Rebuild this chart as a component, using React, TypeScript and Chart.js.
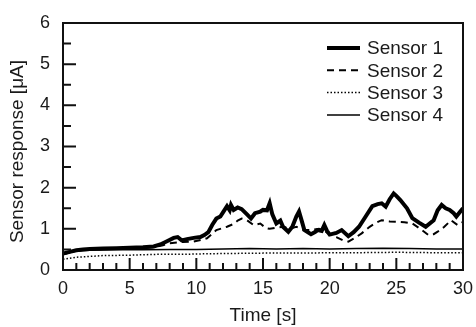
import React, { useEffect, useRef } from "react";
import { Chart, registerables } from "chart.js";

Chart.register(...registerables);

// ---- Data ----
const sensor1Time = [0, 0.5, 1, 1.5, 2, 3, 4, 5, 6, 6.8, 7.3, 7.8, 8.3, 8.6, 8.9, 9.3, 9.8, 10.3, 10.6, 10.9, 11.2, 11.5, 11.8, 12.0, 12.3, 12.5, 12.6, 12.8, 13.1, 13.4, 13.8, 14.1, 14.4, 14.8, 15.0, 15.3, 15.5, 15.7, 16.0, 16.3, 16.5, 16.9, 17.2, 17.5, 17.7, 17.9, 18.1, 18.6, 18.9, 19.1, 19.4, 19.6, 19.8, 20.0, 20.5, 20.9, 21.4, 21.8, 22.2, 22.7, 23.2, 23.6, 23.9, 24.2, 24.5, 24.8, 25.0, 25.3, 25.8, 26.2, 26.7, 27.2, 27.8, 28.1, 28.4, 28.7, 29.0, 29.3, 29.5, 29.8, 30];
const sensor1Values = [0.40, 0.44, 0.48, 0.50, 0.51, 0.52, 0.53, 0.54, 0.55, 0.57, 0.62, 0.70, 0.78, 0.80, 0.72, 0.75, 0.78, 0.80, 0.85, 0.92, 1.10, 1.25, 1.30, 1.40, 1.55, 1.45, 1.58, 1.46, 1.52, 1.48, 1.35, 1.25, 1.38, 1.42, 1.46, 1.45, 1.62, 1.35, 1.13, 1.20, 1.05, 0.93, 1.05, 1.30, 1.42, 1.20, 0.97, 0.87, 0.92, 0.97, 0.95, 1.09, 0.95, 0.86, 0.90, 0.97, 0.82, 0.92, 1.05, 1.30, 1.55, 1.60, 1.62, 1.54, 1.72, 1.86, 1.80, 1.70, 1.50, 1.26, 1.15, 1.05, 1.21, 1.45, 1.58, 1.50, 1.46, 1.38, 1.30, 1.42, 1.50];

const sensor2Time = [0, 1, 2, 3, 5, 6.8, 7.5, 8.0, 9.0, 9.8, 10.5, 10.8, 11.2, 11.5, 12.0, 12.3, 12.8, 13.1, 13.4, 13.8, 14.3, 14.8, 15.2, 15.5, 16.0, 16.5, 17.0, 17.5, 18.0, 18.6, 19.2, 19.6, 20.1, 20.5, 21.0, 21.4, 21.8, 22.4, 23.0, 23.5, 23.9, 24.5, 25.1, 25.6, 26.2, 26.8, 27.4, 27.8, 28.1, 28.6, 29.1, 29.6, 30];
const sensor2Values = [0.38, 0.47, 0.50, 0.51, 0.52, 0.55, 0.60, 0.65, 0.68, 0.69, 0.74, 0.77, 0.88, 0.97, 1.02, 1.05, 1.12, 1.20, 1.25, 1.21, 1.09, 1.13, 1.02, 1.00, 1.03, 1.05, 1.00, 1.05, 0.98, 0.97, 1.00, 0.95, 0.85, 0.80, 0.72, 0.69, 0.76, 0.89, 1.05, 1.15, 1.21, 1.18, 1.17, 1.16, 1.13, 1.00, 0.85, 0.87, 0.93, 1.05, 1.21, 1.09, 1.17];

const sensor3Time = [0, 1, 2, 3, 5, 7, 9, 10, 12, 15, 18, 20, 22, 25, 28, 30];
const sensor3Values = [0.26, 0.31, 0.33, 0.35, 0.36, 0.38, 0.38, 0.39, 0.40, 0.41, 0.41, 0.42, 0.42, 0.43, 0.42, 0.42];

const sensor4Time = [0, 1, 2, 4, 6, 8, 10, 12, 14, 16, 18, 20, 22, 24, 26, 28, 30];
const sensor4Values = [0.38, 0.46, 0.48, 0.49, 0.49, 0.50, 0.50, 0.51, 0.52, 0.51, 0.52, 0.51, 0.52, 0.53, 0.52, 0.51, 0.51];

const seriesNames = ["Sensor 1", "Sensor 2", "Sensor 3", "Sensor 4"];
const xTitle = "Time [s]";
const yTitle = "Sensor response [\u03bcA]";

const FONT = "'Liberation Sans', Arial, sans-serif";
const TEXT = "#1a1a1a";

const styles = [
  { width: 4, dash: [] as number[] },
  { width: 2, dash: [7, 5] },
  { width: 1.5, dash: [1.5, 2] },
  { width: 1.5, dash: [] as number[] },
];

const toPts = (t: number[], v: number[]) => t.map((x, i) => ({ x, y: v[i] }));

const framePlugin = {
  id: "frameAndLegend",
  afterDatasetsDraw(chart: any) {
    const { ctx, chartArea: a, scales } = chart;
    ctx.save();
    ctx.strokeStyle = "#111";
    ctx.lineWidth = 2;
    ctx.setLineDash([]);
    ctx.strokeRect(a.left, a.top, a.right - a.left, a.bottom - a.top);
    ctx.beginPath();
    for (let t = 0; t <= 30; t += 1) {
      const px = scales.x.getPixelForValue(t);
      const len = t % 5 === 0 ? 12 : 7;
      ctx.moveTo(px, a.bottom);
      ctx.lineTo(px, a.bottom - len);
    }
    for (let k = 0; k <= 12; k += 1) {
      const py = scales.y.getPixelForValue(k / 2);
      const len = k % 2 === 0 ? 13 : 8;
      ctx.moveTo(a.left, py);
      ctx.lineTo(a.left + len, py);
    }
    ctx.stroke();

    // y-axis title (slightly below the plot centre, as in the reference)
    ctx.save();
    ctx.translate(18, (a.top + a.bottom) / 2 + 5);
    ctx.rotate(-Math.PI / 2);
    ctx.font = `19px ${FONT}`;
    ctx.fillStyle = TEXT;
    ctx.textAlign = "center";
    ctx.textBaseline = "middle";
    ctx.fillText(yTitle, 0, 0);
    ctx.restore();

    // legend
    ctx.font = `19px ${FONT}`;
    ctx.fillStyle = TEXT;
    ctx.textBaseline = "middle";
    ctx.textAlign = "left";
    seriesNames.forEach((name, i) => {
      const y = 48 + i * 22.3;
      ctx.beginPath();
      ctx.strokeStyle = "#000";
      ctx.lineWidth = styles[i].width;
      ctx.setLineDash(styles[i].dash);
      ctx.moveTo(327, y);
      ctx.lineTo(360, y);
      ctx.stroke();
      ctx.fillText(name, 367, y + 1);
    });
    ctx.restore();
  },
};

export default function App() {
  const ref = useRef<HTMLCanvasElement | null>(null);
  useEffect(() => {
    document.body.style.margin = "0";
    const seriesData = [
      toPts(sensor1Time, sensor1Values),
      toPts(sensor2Time, sensor2Values),
      toPts(sensor3Time, sensor3Values),
      toPts(sensor4Time, sensor4Values),
    ];
    const chart = new Chart(ref.current!, {
      type: "line",
      data: {
        datasets: seriesData.map((d, i) => ({
          label: seriesNames[i],
          data: d,
          borderColor: "#000",
          borderWidth: styles[i].width,
          borderDash: styles[i].dash,
          pointRadius: 0,
          tension: 0,
          fill: false,
        })),
      },
      options: {
        animation: false,
        responsive: false,
        layout: { padding: { top: 23, right: 13, left: 0, bottom: 0 } },
        plugins: { legend: { display: false }, tooltip: { enabled: false } },
        scales: {
          x: {
            type: "linear",
            min: 0,
            max: 30,
            grid: { display: false, drawTicks: false },
            border: { display: false },
            ticks: { stepSize: 5, padding: 8, color: TEXT, font: { family: FONT, size: 18 } },
            title: { display: true, text: xTitle, color: TEXT, font: { family: FONT, size: 19 }, padding: { top: 0, bottom: 0 } },
            afterFit: (s: any) => { s.height = 57; s.paddingLeft = 0; s.paddingRight = 0; },
          },
          y: {
            type: "linear",
            min: 0,
            max: 6,
            grid: { display: false, drawTicks: false },
            border: { display: false },
            ticks: { stepSize: 1, padding: 13, color: TEXT, font: { family: FONT, size: 18 } },
            title: { display: false, text: yTitle },
            afterFit: (s: any) => { s.width = 63; s.paddingTop = 0; s.paddingBottom = 0; },
          },
        },
      },
      plugins: [framePlugin],
    });
    return () => chart.destroy();
  }, []);
  return (
    <div style={{ width: 476, height: 327 }}>
      <canvas ref={ref} width={476} height={327} style={{ display: "block" }} />
    </div>
  );
}
